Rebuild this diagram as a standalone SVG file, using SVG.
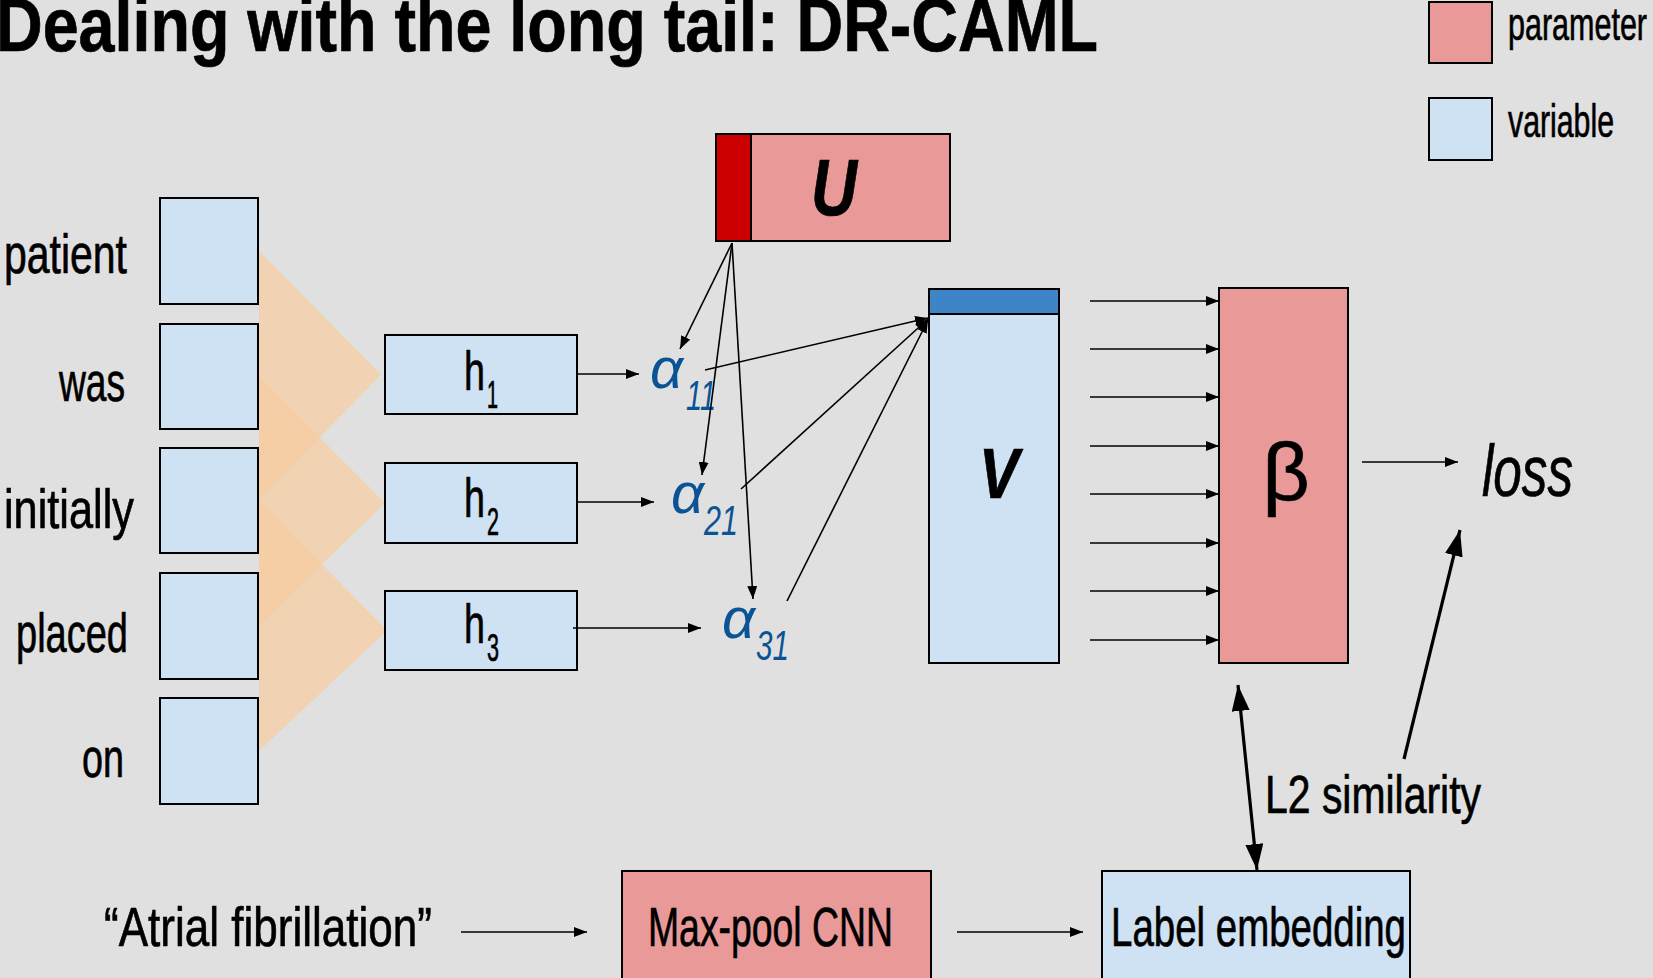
<svg xmlns="http://www.w3.org/2000/svg" width="1653" height="978" viewBox="0 0 1653 978">
<defs>
<style>
.t{font-family:"Liberation Sans",Arial,sans-serif;fill:#000;stroke:#000;stroke-width:0.7}
.w{font-size:56px}
.var{fill:#cfe2f3;stroke:#000;stroke-width:2}
.par{fill:#ea9999;stroke:#000;stroke-width:2}
.ln{stroke:#000;stroke-width:1.6;fill:none}
.thk{stroke:#000;stroke-width:3.2;fill:none}
.al{font-family:"Liberation Sans",Arial,sans-serif;font-style:italic;fill:#0b5394}
.tri{fill:rgb(248,204,159);fill-opacity:0.7}
</style>
<marker id="ah" markerUnits="userSpaceOnUse" markerWidth="13" markerHeight="10" refX="13" refY="5" orient="auto"><path d="M0,0 L13,5 L0,10 z" fill="#000"/></marker>
<marker id="ahb" markerUnits="userSpaceOnUse" markerWidth="26" markerHeight="18" refX="26" refY="9" orient="auto-start-reverse"><path d="M0,0 L26,9 L0,18 z" fill="#000"/></marker>
</defs>
<rect width="1653" height="978" fill="#e0e0e0"/>
<text class="t" x="-4" y="51" font-size="76" font-weight="bold" stroke-width="1.2" textLength="1102" lengthAdjust="spacingAndGlyphs">Dealing with the long tail: DR-CAML</text>
<g id="legend">
<rect class="par" x="1429" y="2" width="63" height="61"/>
<text class="t" x="1508" y="40" font-size="46" textLength="139" lengthAdjust="spacingAndGlyphs">parameter</text>
<rect class="var" x="1429" y="98" width="63" height="62"/>
<text class="t" x="1508" y="137" font-size="46" textLength="106" lengthAdjust="spacingAndGlyphs">variable</text>
</g>
<g id="conv">
<polygon class="tri" points="259,251 259,500 381,374.5"/>
<polygon class="tri" points="259,376.5 259,626 385,503"/>
<polygon class="tri" points="259,500.5 259,751 387,630.5"/>
</g>
<g id="words">
<g id="w1"><rect class="var" x="160" y="198" width="98" height="106"/><text class="t w" x="127" y="273" text-anchor="end" textLength="123" lengthAdjust="spacingAndGlyphs">patient</text></g>
<g id="w2"><rect class="var" x="160" y="324" width="98" height="105"/><text class="t w" x="125" y="401" text-anchor="end" textLength="66" lengthAdjust="spacingAndGlyphs">was</text></g>
<g id="w3"><rect class="var" x="160" y="448" width="98" height="105"/><text class="t w" x="134" y="528" text-anchor="end" textLength="130" lengthAdjust="spacingAndGlyphs">initially</text></g>
<g id="w4"><rect class="var" x="160" y="573" width="98" height="106"/><text class="t w" x="128" y="652" text-anchor="end" textLength="112" lengthAdjust="spacingAndGlyphs">placed</text></g>
<g id="w5"><rect class="var" x="160" y="698" width="98" height="106"/><text class="t w" x="124" y="777" text-anchor="end" textLength="42" lengthAdjust="spacingAndGlyphs">on</text></g>
</g>
<g id="h1"><rect class="var" x="385" y="335" width="192" height="79"/><text class="t" x="464" y="390" font-size="56" textLength="21" lengthAdjust="spacingAndGlyphs">h</text><text class="t" x="487" y="408" font-size="38" textLength="11" lengthAdjust="spacingAndGlyphs">1</text></g>
<g id="h2"><rect class="var" x="385" y="463" width="192" height="80"/><text class="t" x="464" y="517" font-size="56" textLength="21" lengthAdjust="spacingAndGlyphs">h</text><text class="t" x="487" y="535" font-size="38" textLength="12" lengthAdjust="spacingAndGlyphs">2</text></g>
<g id="h3"><rect class="var" x="385" y="591" width="192" height="79"/><text class="t" x="464" y="643" font-size="56" textLength="21" lengthAdjust="spacingAndGlyphs">h</text><text class="t" x="487" y="661" font-size="38" textLength="12" lengthAdjust="spacingAndGlyphs">3</text></g>
<g id="U"><rect class="par" x="716" y="134" width="234" height="107"/><rect x="716" y="134" width="35" height="107" fill="#cc0000" stroke="#000" stroke-width="2"/><text class="t" x="811" y="215" font-size="80" font-weight="bold" font-style="italic" textLength="46" lengthAdjust="spacingAndGlyphs">U</text></g>
<g id="a11"><text class="al" x="650" y="388" font-size="58">α</text><text class="al" x="686" y="410" font-size="43" textLength="30" lengthAdjust="spacingAndGlyphs">11</text></g>
<g id="a21"><text class="al" x="671" y="513" font-size="58">α</text><text class="al" x="704" y="535" font-size="43" textLength="34" lengthAdjust="spacingAndGlyphs">21</text></g>
<g id="a31"><text class="al" x="722" y="638" font-size="58">α</text><text class="al" x="756" y="660" font-size="43" textLength="33" lengthAdjust="spacingAndGlyphs">31</text></g>
<g id="V"><rect class="var" x="929" y="289" width="130" height="374"/><rect x="929" y="289" width="130" height="25" fill="#3d85c6" stroke="#000" stroke-width="2"/><text class="t" x="979" y="498" font-size="70" font-weight="bold" font-style="italic" textLength="40" lengthAdjust="spacingAndGlyphs">V</text></g>
<g id="beta"><rect class="par" x="1219" y="288" width="129" height="375"/><text class="t" x="1286" y="500" font-size="82" text-anchor="middle" stroke-width="0.3">β</text></g>
<g id="loss"><text class="t" x="1482" y="496" font-size="72" font-style="italic" textLength="91" lengthAdjust="spacingAndGlyphs">loss</text></g>
<g id="l2"><text class="t" x="1265" y="813" font-size="54" textLength="216" lengthAdjust="spacingAndGlyphs">L2 similarity</text></g>
<g id="src"><text class="t" x="104" y="946" font-size="56" textLength="328" lengthAdjust="spacingAndGlyphs">“Atrial fibrillation”</text></g>
<g id="cnn"><rect class="par" x="622" y="871" width="309" height="110"/><text class="t" x="648" y="946" font-size="56" textLength="245" lengthAdjust="spacingAndGlyphs">Max-pool CNN</text></g>
<g id="emb"><rect class="var" x="1102" y="871" width="308" height="110"/><text class="t" x="1111" y="946" font-size="56" textLength="295" lengthAdjust="spacingAndGlyphs">Label embedding</text></g>
<g id="connectors">
<line class="ln" x1="577" y1="374" x2="639" y2="374" marker-end="url(#ah)"/>
<line class="ln" x1="577" y1="502" x2="654" y2="502" marker-end="url(#ah)"/>
<line class="ln" x1="573" y1="628" x2="701" y2="628" marker-end="url(#ah)"/>
<line class="ln" x1="732" y1="243" x2="680" y2="349" marker-end="url(#ah)"/>
<line class="ln" x1="732" y1="243" x2="702" y2="475" marker-end="url(#ah)"/>
<line class="ln" x1="732" y1="243" x2="753" y2="599" marker-end="url(#ah)"/>
<line class="ln" x1="705" y1="370" x2="928" y2="318" marker-end="url(#ah)"/>
<line class="ln" x1="741" y1="489" x2="928" y2="319" marker-end="url(#ah)"/>
<line class="ln" x1="787" y1="601" x2="928" y2="320" marker-end="url(#ah)"/>
<line class="ln" x1="1090" y1="301" x2="1219" y2="301" marker-end="url(#ah)"/>
<line class="ln" x1="1090" y1="349" x2="1219" y2="349" marker-end="url(#ah)"/>
<line class="ln" x1="1090" y1="397" x2="1219" y2="397" marker-end="url(#ah)"/>
<line class="ln" x1="1090" y1="446" x2="1219" y2="446" marker-end="url(#ah)"/>
<line class="ln" x1="1090" y1="494" x2="1219" y2="494" marker-end="url(#ah)"/>
<line class="ln" x1="1090" y1="543" x2="1219" y2="543" marker-end="url(#ah)"/>
<line class="ln" x1="1090" y1="591" x2="1219" y2="591" marker-end="url(#ah)"/>
<line class="ln" x1="1090" y1="640" x2="1219" y2="640" marker-end="url(#ah)"/>
<line class="ln" x1="1362" y1="462" x2="1458" y2="462" marker-end="url(#ah)"/>
<line class="thk" x1="1404" y1="759" x2="1460" y2="530" marker-end="url(#ahb)"/>
<line class="thk" x1="1238" y1="685" x2="1257" y2="870" marker-start="url(#ahb)" marker-end="url(#ahb)"/>
<line class="ln" x1="461" y1="932" x2="587" y2="932" marker-end="url(#ah)"/>
<line class="ln" x1="957" y1="932" x2="1083" y2="932" marker-end="url(#ah)"/>
</g>
</svg>
